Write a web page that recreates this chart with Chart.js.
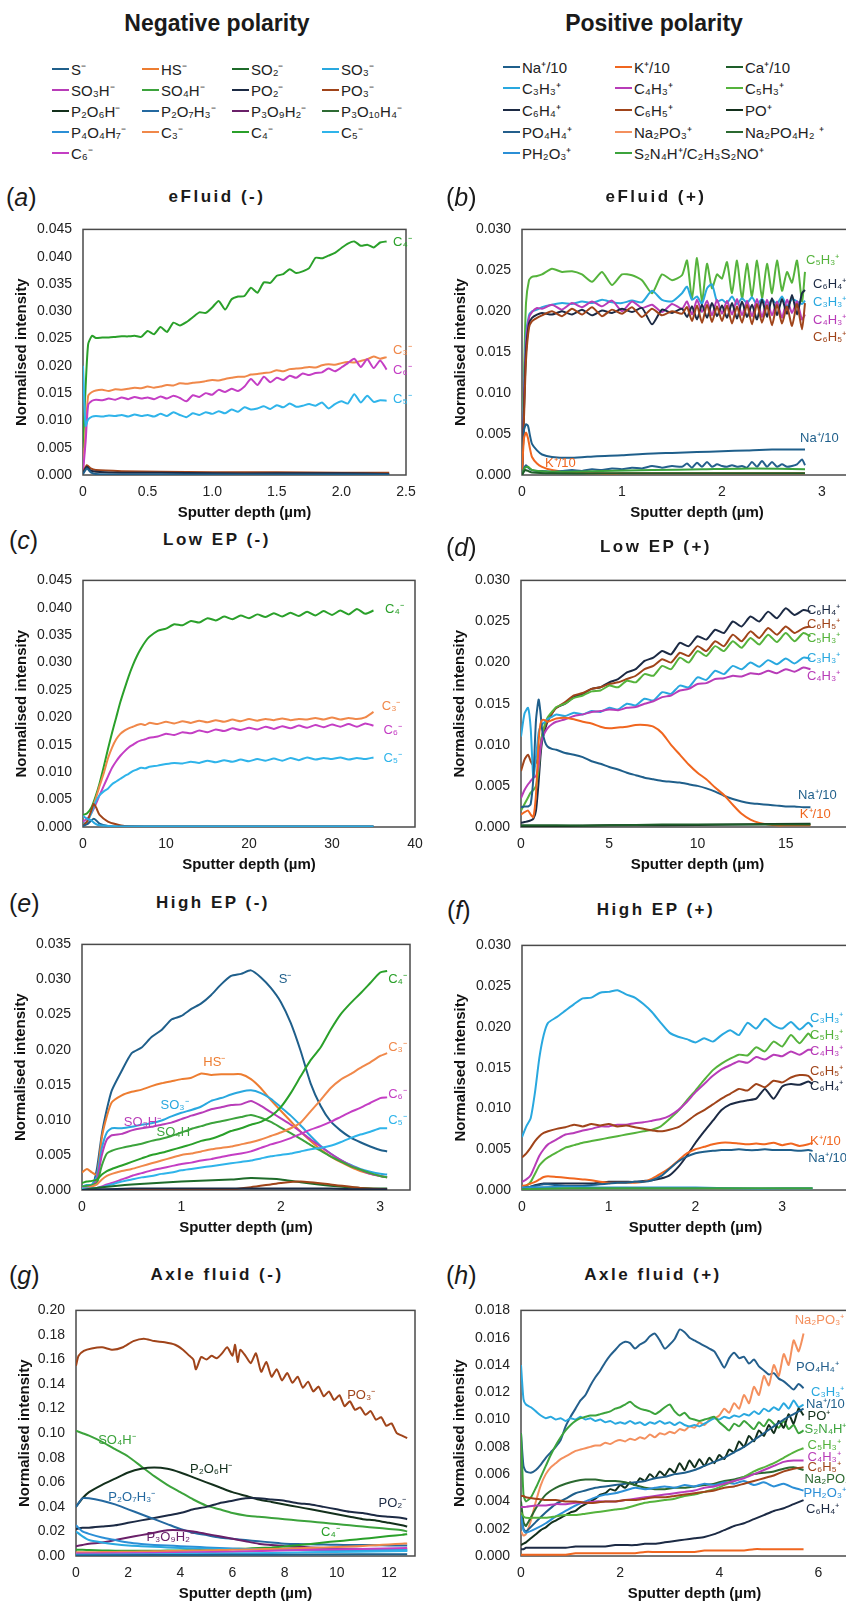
<!DOCTYPE html>
<html>
<head>
<meta charset="utf-8">
<script src="https://cdn.jsdelivr.net/npm/chart.js@4.4.0/dist/chart.umd.min.js"></script>
<style>
html, body { margin: 0; padding: 0; background: #fff; }
body { width: 846px; height: 1602px; overflow: hidden; position: relative; font-family: "Liberation Sans", Arial, sans-serif; color: #1a1a1a; }
.abs { position: absolute; white-space: nowrap; }
.main { font-weight: bold; font-size: 23px; transform: translate(-50%, -50%); }
.ptitle { font-weight: bold; font-size: 17px; letter-spacing: 2.5px; transform: translate(-50%, -50%); }
.tag { font-size: 25px; transform: translateY(-50%); }
.leg { font-size: 15px; transform: translateY(-50%); display: flex; align-items: center; color: #222; }
.sw { display: inline-block; width: 17px; height: 2.5px; margin-right: 2px; }
canvas { position: absolute; }
</style>
</head>
<body>
<script>
const FONT = '"Liberation Sans", Arial, sans-serif';

// legend entries
const negNames = ['S⁻', 'HS⁻', 'SO₂⁻', 'SO₃⁻', 'SO₃H⁻', 'SO₄H⁻', 'PO₂⁻', 'PO₃⁻', 'P₂O₆H⁻', 'P₂O₇H₃⁻', 'P₃O₉H₂⁻', 'P₃O₁₀H₄⁻', 'P₄O₄H₇⁻', 'C₃⁻', 'C₄⁻', 'C₅⁻', 'C₆⁻'];
const negColors = ['#1f5f8b', '#ed7d31', '#1e6b2a', '#29a8df', '#b83cb8', '#3ca33c', '#1c2a44', '#a0441a', '#13301c', '#2469a0', '#6a2069', '#2e6b33', '#2b8fd6', '#f0884a', '#2aa02a', '#2fb4ea', '#c43ec4'];
const posNames = ['Na⁺/10', 'K⁺/10', 'Ca⁺/10', 'C₃H₃⁺', 'C₄H₃⁺', 'C₅H₃⁺', 'C₆H₄⁺', 'C₆H₅⁺', 'PO⁺', 'PO₄H₄⁺', 'Na₂PO₃⁺', 'Na₂PO₄H₂ ⁺', 'PH₂O₃⁺', 'S₂N₄H⁺/C₂H₃S₂NO⁺'];
const posColors = ['#1f5f8b', '#f0661f', '#1e5e2a', '#29a8df', '#b83cb8', '#55b33c', '#1c2a44', '#a0441a', '#13301c', '#245f8c', '#f4905e', '#2b6930', '#2b8fd6', '#3ca33c'];
const N = { S: 0, HS: 1, SO2: 2, SO3: 3, SO3H: 4, SO4H: 5, PO2: 6, PO3: 7, P2O6H: 8, P2O7H3: 9, P3O9H2: 10, P3O10H4: 11, P4O4H7: 12, C3: 13, C4: 14, C5: 15, C6: 16 };
const P = { Na: 0, K: 1, Ca: 2, C3H3: 3, C4H3: 4, C5H3: 5, C6H4: 6, C6H5: 7, PO: 8, PO4H4: 9, Na2PO3: 10, Na2PO4H2: 11, PH2O3: 12, S2N4H: 13 };

// (a) eFluid (-)
const aDepth = [0, 0.02, 0.04, 0.07, 0.1, 0.15, 0.2, 0.25, 0.3, 0.35, 0.4, 0.45, 0.5, 0.55, 0.6, 0.65, 0.7, 0.75, 0.8, 0.85, 0.9, 0.95, 1.0, 1.05, 1.1, 1.15, 1.2, 1.25, 1.3, 1.35, 1.4, 1.45, 1.5, 1.55, 1.6, 1.65, 1.7, 1.75, 1.8, 1.85, 1.9, 1.95, 2.0, 2.05, 2.1, 2.15, 2.2, 2.25, 2.3, 2.35];
const aC4 = [0.005, 0.016, 0.024, 0.0255, 0.0251, 0.0252, 0.0252, 0.0253, 0.0254, 0.0254, 0.0255, 0.0253, 0.0264, 0.0258, 0.0271, 0.0262, 0.0279, 0.0274, 0.0280, 0.0289, 0.0298, 0.0297, 0.0307, 0.0319, 0.0303, 0.0322, 0.0327, 0.0328, 0.0343, 0.0334, 0.0353, 0.0352, 0.0365, 0.0368, 0.0377, 0.0370, 0.0373, 0.0379, 0.0398, 0.0397, 0.0402, 0.0407, 0.0416, 0.0424, 0.0428, 0.0420, 0.0422, 0.0417, 0.0426, 0.0428];
const aC3 = [0.001, 0.008, 0.0145, 0.0152, 0.0155, 0.0156, 0.0154, 0.0157, 0.0156, 0.0158, 0.0160, 0.0159, 0.0162, 0.0160, 0.0162, 0.0165, 0.0164, 0.0168, 0.0167, 0.0169, 0.0170, 0.0172, 0.0174, 0.0173, 0.0176, 0.0178, 0.0180, 0.0180, 0.0184, 0.0185, 0.0187, 0.0188, 0.0192, 0.0190, 0.0194, 0.0195, 0.0196, 0.0198, 0.0197, 0.0201, 0.0203, 0.0202, 0.0205, 0.0207, 0.0206, 0.0209, 0.0212, 0.0217, 0.0213, 0.0216];
const aC6 = [0.0005, 0.006, 0.0128, 0.0136, 0.0138, 0.0137, 0.0140, 0.0138, 0.0142, 0.0139, 0.0143, 0.0140, 0.0142, 0.0139, 0.0144, 0.0140, 0.0145, 0.0141, 0.0135, 0.0146, 0.0143, 0.0150, 0.0147, 0.0156, 0.0152, 0.0158, 0.0154, 0.0162, 0.0176, 0.0165, 0.0180, 0.0170, 0.0178, 0.0174, 0.0182, 0.0178, 0.0186, 0.0183, 0.0187, 0.0188, 0.0195, 0.0190, 0.0197, 0.0205, 0.0213, 0.0198, 0.0212, 0.0196, 0.0210, 0.0193];
const aC5 = [0.020, 0.009, 0.0102, 0.0107, 0.0108, 0.0107, 0.0109, 0.0108, 0.0110, 0.0107, 0.0111, 0.0108, 0.0110, 0.0107, 0.0112, 0.0108, 0.0115, 0.0110, 0.0106, 0.0113, 0.0110, 0.0115, 0.0112, 0.0117, 0.0113, 0.0120, 0.0116, 0.0124, 0.0120, 0.0122, 0.0126, 0.0121, 0.0128, 0.0124, 0.0131, 0.0125, 0.0127, 0.0130, 0.0127, 0.0133, 0.0122, 0.0130, 0.0135, 0.0131, 0.0148, 0.0133, 0.0145, 0.0134, 0.0137, 0.0136];
const aMinorDepth = [0, 0.03, 0.06, 0.1, 0.3, 0.6, 1.0, 1.5, 2.0, 2.37];
const aPO3 = [0.0005, 0.0018, 0.0012, 0.0009, 0.0007, 0.0006, 0.0005, 0.0005, 0.0004, 0.0004];
const aPO2 = [0.0003, 0.0015, 0.0008, 0.0006, 0.0004, 0.0004, 0.0003, 0.0003, 0.0003, 0.0002];
const aS = [0.0002, 0.0012, 0.0005, 0.0002, 0.0001, 0.0001, 0.0001, 0.0001, 0.0001, 0.0001];

// (b) eFluid (+)
const bDepth = [0, 0.02, 0.04, 0.07, 0.1, 0.15, 0.2, 0.3, 0.4, 0.5, 0.6, 0.7, 0.8, 0.9, 1.0, 1.1, 1.2, 1.3, 1.4, 1.5, 1.6, 1.65, 1.7, 1.75, 1.8, 1.85, 1.9, 1.95, 2.0, 2.05, 2.1, 2.15, 2.2, 2.25, 2.3, 2.35, 2.4, 2.45, 2.5, 2.55, 2.6, 2.65, 2.7, 2.75, 2.8, 2.83];
const bC5H3 = [0.0, 0.012, 0.021, 0.0238, 0.0242, 0.0243, 0.0245, 0.0252, 0.0248, 0.0249, 0.0245, 0.0236, 0.0248, 0.0232, 0.0245, 0.0244, 0.0238, 0.0222, 0.0245, 0.0238, 0.0244, 0.0262, 0.0215, 0.0265, 0.0212, 0.0258, 0.0228, 0.0245, 0.0240, 0.0260, 0.0222, 0.0262, 0.0215, 0.0258, 0.0218, 0.0262, 0.0216, 0.0258, 0.0222, 0.0262, 0.0225, 0.0248, 0.0235, 0.0262, 0.0212, 0.0248];
const bC3H3 = [0.0, 0.010, 0.017, 0.0195, 0.0200, 0.0202, 0.0205, 0.0208, 0.0210, 0.0209, 0.0212, 0.0210, 0.0214, 0.0211, 0.0210, 0.0213, 0.0211, 0.0225, 0.0214, 0.0212, 0.0222, 0.0230, 0.0214, 0.0218, 0.0209, 0.0228, 0.0233, 0.0212, 0.0214, 0.0210, 0.0218, 0.0209, 0.0216, 0.0210, 0.0217, 0.0208, 0.0215, 0.0207, 0.0214, 0.0209, 0.0218, 0.0206, 0.0215, 0.0212, 0.0209, 0.0213];
const bC4H3 = [0.0, 0.009, 0.016, 0.0192, 0.0199, 0.0204, 0.0203, 0.0208, 0.0202, 0.0210, 0.0205, 0.0212, 0.0206, 0.0213, 0.0200, 0.0212, 0.0204, 0.0208, 0.0199, 0.0209, 0.0203, 0.0212, 0.0196, 0.0214, 0.0199, 0.0213, 0.0195, 0.0214, 0.0197, 0.0213, 0.0196, 0.0215, 0.0195, 0.0213, 0.0194, 0.0215, 0.0193, 0.0214, 0.0195, 0.0212, 0.0192, 0.0214, 0.0198, 0.0212, 0.0190, 0.0196];
const bC6H4 = [0.0, 0.008, 0.015, 0.0185, 0.0192, 0.0196, 0.0198, 0.0196, 0.0200, 0.0196, 0.0202, 0.0195, 0.0201, 0.0198, 0.0203, 0.0199, 0.0204, 0.0184, 0.0202, 0.0198, 0.0203, 0.0193, 0.0206, 0.0190, 0.0208, 0.0192, 0.0210, 0.0194, 0.0207, 0.0192, 0.0210, 0.0191, 0.0212, 0.0193, 0.0208, 0.0190, 0.0214, 0.0193, 0.0216, 0.0195, 0.0215, 0.0197, 0.0220, 0.0196, 0.0222, 0.0226];
const bC6H5 = [0.0, 0.007, 0.014, 0.0180, 0.0188, 0.0192, 0.0195, 0.0200, 0.0194, 0.0203, 0.0196, 0.0205, 0.0194, 0.0202, 0.0197, 0.0205, 0.0193, 0.0203, 0.0195, 0.0200, 0.0197, 0.0205, 0.0188, 0.0207, 0.0186, 0.0208, 0.0187, 0.0206, 0.0188, 0.0207, 0.0185, 0.0206, 0.0186, 0.0208, 0.0184, 0.0209, 0.0186, 0.0207, 0.0183, 0.0208, 0.0185, 0.0206, 0.0182, 0.0209, 0.0178, 0.0210];
const bPO4H4 = [0.0, 0.0008, 0.0012, 0.0008, 0.0006, 0.0005, 0.0005, 0.0004, 0.0005, 0.0006, 0.0005, 0.0007, 0.0006, 0.0008, 0.0007, 0.0009, 0.0008, 0.0011, 0.0009, 0.0011, 0.0010, 0.0014, 0.0009, 0.0015, 0.0010, 0.0016, 0.0010, 0.0013, 0.0011, 0.0010, 0.0012, 0.0010, 0.0011, 0.0009, 0.0016, 0.0010, 0.0017, 0.0010, 0.0016, 0.0010, 0.0013, 0.0010, 0.0011, 0.0013, 0.0019, 0.0012];
const bSparseDepth = [0, 0.03, 0.06, 0.1, 0.3, 0.8, 1.3, 1.8, 2.3, 2.83];
const bS2N4H = [0.0, 0.0009, 0.0010, 0.0006, 0.0004, 0.0005, 0.0006, 0.0007, 0.0008, 0.0007];
const bCa = [0.0, 0.0006, 0.0005, 0.0003, 0.0002, 0.0002, 0.0002, 0.0002, 0.0002, 0.0002];
const bNaDepth = [0, 0.02, 0.04, 0.06, 0.08, 0.1, 0.15, 0.2, 0.3, 0.5, 0.75, 1.0, 1.25, 1.5, 1.75, 2.0, 2.25, 2.5, 2.83];
const bNa = [0.001, 0.0055, 0.0062, 0.0060, 0.0048, 0.0038, 0.0030, 0.0025, 0.0022, 0.0021, 0.0023, 0.0024, 0.0026, 0.0027, 0.0028, 0.0029, 0.0030, 0.0031, 0.0031];
const bK = [0.0005, 0.0045, 0.0052, 0.0045, 0.0032, 0.0022, 0.0014, 0.0010, 0.0006, 0.0003, 0.0002, 0.0002, 0.0002, 0.0002, 0.0002, 0.0002, 0.0002, 0.0002, 0.0002];

// (c) Low EP (-)
const cDepth = [0, 0.5, 1, 1.5, 2, 2.5, 3, 3.5, 4, 4.5, 5, 5.5, 6, 6.5, 7, 7.5, 8, 9, 10, 11, 12, 13, 14, 15, 16, 17, 18, 19, 20, 21, 22, 23, 24, 25, 26, 27, 28, 29, 30, 31, 32, 33, 34, 35];
const cC4 = [0.0022, 0.0025, 0.0035, 0.0055, 0.0080, 0.0110, 0.0142, 0.0172, 0.0200, 0.0228, 0.0252, 0.0275, 0.0295, 0.0312, 0.0326, 0.0338, 0.0347, 0.0358, 0.0362, 0.0370, 0.0368, 0.0376, 0.0373, 0.0381, 0.0377, 0.0384, 0.0379, 0.0386, 0.0381, 0.0388, 0.0383, 0.0390, 0.0384, 0.0391, 0.0385, 0.0393, 0.0386, 0.0394, 0.0387, 0.0395, 0.0388, 0.0398, 0.0389, 0.0395];
const cC3 = [0.0003, 0.0008, 0.0028, 0.0050, 0.0075, 0.0098, 0.0125, 0.0145, 0.0160, 0.0170, 0.0176, 0.0180, 0.0183, 0.0186, 0.0188, 0.0186, 0.0190, 0.0188, 0.0192, 0.0189, 0.0193, 0.0190, 0.0194, 0.0191, 0.0195, 0.0192, 0.0196, 0.0193, 0.0197, 0.0194, 0.0197, 0.0195, 0.0198, 0.0195, 0.0197, 0.0196, 0.0199, 0.0196, 0.0200, 0.0196, 0.0199, 0.0197, 0.0200, 0.0210];
const cC6 = [0.0010, 0.0015, 0.0025, 0.0040, 0.0058, 0.0075, 0.0092, 0.0108, 0.0120, 0.0130, 0.0138, 0.0145, 0.0150, 0.0155, 0.0158, 0.0160, 0.0163, 0.0165, 0.0170, 0.0168, 0.0173, 0.0171, 0.0176, 0.0173, 0.0178, 0.0175, 0.0180, 0.0177, 0.0181, 0.0178, 0.0183, 0.0179, 0.0184, 0.0180, 0.0185, 0.0181, 0.0186, 0.0182, 0.0187, 0.0183, 0.0188, 0.0183, 0.0189, 0.0185];
const cC5 = [0.0005, 0.0010, 0.0025, 0.0045, 0.0058, 0.0065, 0.0070, 0.0078, 0.0083, 0.0088, 0.0093, 0.0097, 0.0102, 0.0105, 0.0108, 0.0107, 0.0110, 0.0112, 0.0115, 0.0117, 0.0116, 0.0119, 0.0117, 0.0121, 0.0118, 0.0122, 0.0119, 0.0123, 0.0120, 0.0124, 0.0121, 0.0125, 0.0121, 0.0126, 0.0122, 0.0127, 0.0123, 0.0126, 0.0124, 0.0127, 0.0123, 0.0126, 0.0124, 0.0127];
const cMinorDepth = [0, 0.5, 1, 1.3, 1.6, 2, 3, 4, 5, 10, 20, 35];
const cPO3 = [0.0003, 0.0010, 0.0030, 0.0042, 0.0035, 0.0022, 0.0010, 0.0005, 0.0002, 0.0001, 0.0001, 0.0001];
const cS = [0.0002, 0.0005, 0.0012, 0.0015, 0.0012, 0.0006, 0.0002, 0.0001, 0.0001, 0.0001, 0.0001, 0.0001];
const cSO3 = [0.0020, 0.0015, 0.0012, 0.0008, 0.0005, 0.0003, 0.0002, 0.0001, 0.0001, 0.0001, 0.0001, 0.0001];

// (d) Low EP (+)
const dDepth = [0, 0.2, 0.4, 0.55, 0.7, 0.85, 1.0, 1.1, 1.2, 1.35, 1.5, 1.75, 2, 2.5, 3, 3.5, 4, 4.5, 5, 5.5, 6, 6.5, 7, 7.5, 8, 8.5, 9, 9.5, 10, 10.5, 11, 11.5, 12, 12.5, 13, 13.5, 14, 14.5, 15, 15.5, 16, 16.4];
const dC6H4 = [0.0005, 0.0006, 0.0007, 0.0008, 0.0010, 0.0020, 0.0055, 0.0085, 0.0105, 0.0118, 0.0128, 0.0138, 0.0145, 0.0150, 0.0158, 0.0162, 0.0168, 0.0170, 0.0176, 0.0180, 0.0188, 0.0192, 0.0202, 0.0206, 0.0214, 0.0210, 0.0224, 0.0220, 0.0232, 0.0228, 0.0240, 0.0236, 0.0250, 0.0244, 0.0256, 0.0250, 0.0262, 0.0254, 0.0266, 0.0258, 0.0264, 0.0262];
const dC6H5 = [0.0068, 0.0082, 0.0088, 0.0080, 0.0075, 0.0078, 0.0088, 0.0100, 0.0112, 0.0122, 0.0130, 0.0138, 0.0145, 0.0152, 0.0160, 0.0163, 0.0168, 0.0170, 0.0174, 0.0176, 0.0180, 0.0184, 0.0192, 0.0196, 0.0204, 0.0200, 0.0212, 0.0208, 0.0220, 0.0214, 0.0226, 0.0220, 0.0234, 0.0226, 0.0238, 0.0230, 0.0242, 0.0234, 0.0244, 0.0236, 0.0242, 0.0244];
const dC5H3 = [0.0020, 0.0028, 0.0036, 0.0042, 0.0045, 0.0050, 0.0070, 0.0095, 0.0112, 0.0125, 0.0133, 0.0140, 0.0146, 0.0150, 0.0157, 0.0160, 0.0165, 0.0166, 0.0172, 0.0170, 0.0178, 0.0176, 0.0186, 0.0184, 0.0196, 0.0192, 0.0206, 0.0200, 0.0214, 0.0208, 0.0220, 0.0214, 0.0226, 0.0218, 0.0230, 0.0222, 0.0234, 0.0225, 0.0236, 0.0226, 0.0236, 0.0232];
const dC3H3 = [0.0110, 0.0138, 0.0145, 0.0120, 0.0060, 0.0085, 0.0115, 0.0122, 0.0125, 0.0128, 0.0131, 0.0134, 0.0137, 0.0135, 0.0139, 0.0137, 0.0141, 0.0140, 0.0145, 0.0143, 0.0150, 0.0148, 0.0156, 0.0154, 0.0164, 0.0162, 0.0172, 0.0170, 0.0182, 0.0179, 0.0190, 0.0186, 0.0196, 0.0192, 0.0200, 0.0195, 0.0203, 0.0198, 0.0205, 0.0199, 0.0206, 0.0205];
const dC4H3 = [0.0035, 0.0045, 0.0052, 0.0056, 0.0060, 0.0062, 0.0075, 0.0095, 0.0108, 0.0115, 0.0120, 0.0125, 0.0128, 0.0131, 0.0135, 0.0137, 0.0140, 0.0141, 0.0143, 0.0142, 0.0145, 0.0146, 0.0150, 0.0153, 0.0158, 0.0160, 0.0166, 0.0168, 0.0174, 0.0175, 0.0180, 0.0181, 0.0184, 0.0183, 0.0187, 0.0186, 0.0190, 0.0187, 0.0192, 0.0189, 0.0194, 0.0192];
const dNa = [0.0024, 0.0025, 0.0025, 0.0028, 0.0060, 0.0130, 0.0155, 0.0140, 0.0118, 0.0104, 0.0098, 0.0095, 0.0094, 0.0090, 0.0088, 0.0085, 0.0080, 0.0077, 0.0073, 0.0070, 0.0066, 0.0063, 0.0060, 0.0058, 0.0056, 0.0055, 0.0054, 0.0052, 0.0050, 0.0047, 0.0043, 0.0038, 0.0034, 0.0031, 0.0029, 0.0028, 0.0027, 0.0026, 0.0025, 0.0025, 0.0024, 0.0024];
const dK = [0.0015, 0.0018, 0.0020, 0.0015, 0.0012, 0.0040, 0.0105, 0.0125, 0.0130, 0.0130, 0.0128, 0.0130, 0.0132, 0.0133, 0.0131, 0.0128, 0.0126, 0.0122, 0.0120, 0.0121, 0.0122, 0.0124, 0.0124, 0.0122, 0.0114, 0.0100, 0.0088, 0.0076, 0.0066, 0.0058, 0.0048, 0.0039, 0.0027, 0.0016, 0.0009, 0.0005, 0.0003, 0.0002, 0.0002, 0.0002, 0.0002, 0.0002];
const dMinorDepth = [0, 2, 5, 8, 12, 16.4];
const dCa = [0.0002, 0.0002, 0.0002, 0.0003, 0.0003, 0.0003];
const dPO = [0.0001, 0.0001, 0.0002, 0.0002, 0.0003, 0.0004];

// (e) High EP (-)
const eDepth = [0, 0.05, 0.1, 0.15, 0.2, 0.25, 0.3, 0.4, 0.5, 0.6, 0.7, 0.8, 0.9, 1.0, 1.1, 1.2, 1.3, 1.4, 1.5, 1.6, 1.7, 1.8, 1.9, 2.0, 2.1, 2.2, 2.3, 2.4, 2.5, 2.6, 2.7, 2.8, 2.9, 3.0, 3.07];
const eS = [0, 0, 0.0003, 0.003, 0.008, 0.0115, 0.0142, 0.017, 0.0195, 0.0203, 0.0218, 0.0228, 0.0243, 0.0248, 0.0258, 0.0266, 0.0278, 0.0293, 0.0305, 0.0308, 0.0313, 0.0303, 0.0288, 0.0268, 0.0238, 0.0198, 0.0152, 0.0120, 0.0098, 0.0085, 0.0075, 0.0068, 0.0062, 0.0057, 0.0055];
const eHS = [0.0025, 0.003, 0.0025, 0.0022, 0.0075, 0.0105, 0.0125, 0.0135, 0.0140, 0.0143, 0.0148, 0.0152, 0.0155, 0.0158, 0.0160, 0.0166, 0.0164, 0.0165, 0.0165, 0.0165, 0.0158, 0.0145, 0.0128, 0.0113, 0.0098, 0.0083, 0.0070, 0.0058, 0.0048, 0.0040, 0.0033, 0.0027, 0.0023, 0.0020, 0.0018];
const eSO3 = [0.0005, 0.0007, 0.0008, 0.002, 0.006, 0.0082, 0.0088, 0.0088, 0.0090, 0.0093, 0.0095, 0.0099, 0.0105, 0.0110, 0.0114, 0.0119, 0.0127, 0.0131, 0.0136, 0.0140, 0.0142, 0.0138, 0.0130, 0.0118, 0.0106, 0.0092, 0.0077, 0.0063, 0.0052, 0.0043, 0.0036, 0.0030, 0.0026, 0.0023, 0.0022];
const eSO3H = [0.0003, 0.0004, 0.0005, 0.0015, 0.005, 0.0072, 0.0078, 0.0080, 0.0085, 0.0088, 0.0090, 0.0093, 0.0096, 0.0101, 0.0106, 0.0110, 0.0115, 0.0118, 0.0121, 0.0122, 0.0127, 0.0120, 0.0111, 0.0102, 0.0093, 0.0083, 0.0072, 0.0062, 0.0052, 0.0043, 0.0035, 0.0029, 0.0023, 0.0020, 0.0018];
const eSO4H = [0.0005, 0.0006, 0.0007, 0.001, 0.0035, 0.0052, 0.0056, 0.0060, 0.0063, 0.0066, 0.0070, 0.0073, 0.0077, 0.0082, 0.0087, 0.0091, 0.0095, 0.0098, 0.0101, 0.0104, 0.0107, 0.0103, 0.0097, 0.0089, 0.0081, 0.0073, 0.0064, 0.0056, 0.0048, 0.0041, 0.0034, 0.0029, 0.0024, 0.0020, 0.0018];
const eC4 = [0.001, 0.0012, 0.0013, 0.0015, 0.0022, 0.0027, 0.003, 0.0035, 0.004, 0.0045, 0.005, 0.0053, 0.0057, 0.0061, 0.0065, 0.007, 0.0073, 0.0078, 0.0084, 0.0088, 0.0093, 0.0097, 0.0105, 0.0118, 0.0138, 0.0162, 0.0185, 0.0203, 0.0228, 0.0250, 0.0266, 0.0280, 0.0295, 0.0310, 0.0312];
const eC3 = [0.0003, 0.0003, 0.0005, 0.0008, 0.0015, 0.002, 0.0023, 0.0027, 0.003, 0.0034, 0.0038, 0.0042, 0.0046, 0.005, 0.0052, 0.0055, 0.0058, 0.006, 0.0062, 0.0065, 0.0068, 0.0072, 0.0077, 0.0082, 0.0088, 0.0096, 0.0112, 0.0128, 0.0145, 0.0157, 0.0165, 0.0174, 0.0182, 0.0191, 0.0195];
const eC6 = [0.0002, 0.0002, 0.0002, 0.0003, 0.0005, 0.0008, 0.001, 0.0015, 0.002, 0.0024, 0.0028, 0.0031, 0.0034, 0.0037, 0.0039, 0.0042, 0.0044, 0.0047, 0.005, 0.0052, 0.0055, 0.006, 0.0065, 0.0069, 0.0074, 0.0080, 0.0086, 0.0091, 0.0097, 0.0104, 0.0111, 0.0117, 0.0124, 0.0131, 0.0132];
const eC5 = [0.0002, 0.0002, 0.0002, 0.0003, 0.0004, 0.0006, 0.0008, 0.0012, 0.0015, 0.0018, 0.002, 0.0023, 0.0025, 0.0028, 0.003, 0.0032, 0.0034, 0.0036, 0.0038, 0.004, 0.0042, 0.0045, 0.0048, 0.005, 0.0052, 0.0055, 0.0058, 0.006, 0.0063, 0.0068, 0.0074, 0.0079, 0.0083, 0.0088, 0.0088];
const eMinorDepth = [0, 0.2, 0.5, 1.0, 1.5, 1.7, 1.9, 2.0, 2.2, 2.5, 2.8, 3.07];
const eSO2 = [0, 0.0004, 0.0008, 0.0012, 0.0015, 0.0017, 0.0016, 0.0015, 0.0011, 0.0006, 0.0003, 0.0002];
const ePO3 = [0, 0, 0, 0, 0.0001, 0.0004, 0.0008, 0.0010, 0.0012, 0.0008, 0.0003, 0.0001];
const ePO2 = [0, 0.0001, 0.0002, 0.0002, 0.0002, 0.0002, 0.0002, 0.0002, 0.0002, 0.0002, 0.0001, 0.0001];

// (f) High EP (+)
const fDepth = [0, 0.05, 0.1, 0.15, 0.2, 0.25, 0.3, 0.4, 0.5, 0.6, 0.7, 0.8, 0.9, 1.0, 1.1, 1.2, 1.3, 1.4, 1.5, 1.6, 1.7, 1.8, 1.9, 2.0, 2.1, 2.2, 2.3, 2.4, 2.5, 2.6, 2.7, 2.8, 2.9, 3.0, 3.1, 3.2, 3.3, 3.35];
const fC3H3 = [0.0065, 0.0078, 0.0088, 0.012, 0.0162, 0.019, 0.0205, 0.0212, 0.0220, 0.0228, 0.0235, 0.0236, 0.0242, 0.0243, 0.0245, 0.0240, 0.0236, 0.0228, 0.0218, 0.0205, 0.0193, 0.0188, 0.0185, 0.0181, 0.0186, 0.0182, 0.0190, 0.0196, 0.0190, 0.0205, 0.0198, 0.0210, 0.0202, 0.0198, 0.0206, 0.0197, 0.0205, 0.0200];
const fC5H3 = [0.0003, 0.0005, 0.001, 0.002, 0.003, 0.0036, 0.004, 0.0046, 0.0052, 0.0055, 0.0058, 0.006, 0.0062, 0.0064, 0.0066, 0.0068, 0.007, 0.0072, 0.0074, 0.0078, 0.0087, 0.0097, 0.011, 0.0122, 0.0135, 0.0147, 0.0155, 0.0161, 0.0166, 0.0165, 0.0175, 0.0170, 0.0182, 0.0176, 0.0190, 0.0180, 0.0192, 0.0186];
const fC4H3 = [0.001, 0.0013, 0.0018, 0.003, 0.0042, 0.005, 0.0056, 0.0062, 0.0068, 0.0070, 0.0073, 0.0075, 0.0078, 0.0078, 0.0080, 0.0080, 0.0082, 0.0083, 0.0085, 0.0087, 0.0091, 0.0098, 0.0108, 0.0120, 0.0130, 0.0140, 0.0148, 0.0153, 0.0158, 0.0156, 0.0163, 0.0160, 0.0166, 0.0164, 0.0170, 0.0166, 0.0172, 0.0172];
const fC6H5 = [0.004, 0.0045, 0.0052, 0.006, 0.0066, 0.007, 0.0072, 0.0075, 0.0077, 0.0080, 0.0078, 0.0081, 0.0079, 0.0081, 0.0078, 0.0079, 0.0077, 0.0075, 0.0073, 0.0072, 0.0074, 0.0077, 0.0084, 0.0092, 0.0098, 0.0105, 0.0112, 0.0118, 0.0124, 0.0122, 0.0130, 0.0126, 0.0134, 0.0132, 0.0138, 0.0141, 0.0140, 0.0134];
const fC6H4 = [0.0002, 0.0003, 0.0004, 0.0006, 0.0007, 0.0008, 0.0008, 0.0008, 0.0008, 0.0008, 0.0008, 0.0008, 0.0009, 0.0010, 0.0010, 0.0010, 0.0010, 0.0011, 0.0012, 0.0014, 0.0018, 0.0028, 0.0042, 0.0058, 0.0072, 0.0085, 0.0098, 0.0105, 0.0108, 0.0110, 0.0112, 0.0124, 0.0112, 0.0127, 0.0130, 0.0129, 0.0133, 0.0130];
const fK = [0.0005, 0.0006, 0.0008, 0.001, 0.0013, 0.0016, 0.0017, 0.0016, 0.0015, 0.0014, 0.0013, 0.0012, 0.0010, 0.0009, 0.0009, 0.0009, 0.0009, 0.0010, 0.0014, 0.0020, 0.0027, 0.0036, 0.0045, 0.0050, 0.0053, 0.0056, 0.0058, 0.0058, 0.0057, 0.0056, 0.0057, 0.0056, 0.0058, 0.0055, 0.0057, 0.0054, 0.0056, 0.0058];
const fNa = [0.0002, 0.0003, 0.0004, 0.0005, 0.0006, 0.0007, 0.0007, 0.0006, 0.0005, 0.0005, 0.0005, 0.0006, 0.0007, 0.0008, 0.0009, 0.0009, 0.0010, 0.0010, 0.0012, 0.0017, 0.0026, 0.0035, 0.0041, 0.0045, 0.0047, 0.0048, 0.0049, 0.0049, 0.0050, 0.0049, 0.0049, 0.0050, 0.0049, 0.0049, 0.0049, 0.0048, 0.0049, 0.0048];
const fMinorDepth = [0, 0.5, 1, 1.5, 2, 2.5, 3, 3.35];
const fPH2O3 = [0.0003, 0.0004, 0.0003, 0.0003, 0.0003, 0.0002, 0.0002, 0.0002];
const fS2N4H = [0.0001, 0.0002, 0.0002, 0.0002, 0.0002, 0.0002, 0.0002, 0.0002];

// (g) Axle fluid (-)
const gPO3Depth = [0, 0.1, 0.3, 0.6, 1, 1.4, 1.8, 2.2, 2.6, 3, 3.4, 3.8, 4.1, 4.3, 4.5, 4.6, 4.8, 5, 5.2, 5.4, 5.6, 5.8, 6, 6.1, 6.2, 6.3, 6.5, 6.7, 6.9, 7.1, 7.3, 7.5, 7.7, 7.9, 8.1, 8.3, 8.5, 8.7, 8.9, 9.1, 9.3, 9.5, 9.7, 9.9, 10.1, 10.3, 10.5, 10.7, 10.9, 11.1, 11.3, 11.5, 11.7, 11.9, 12.1, 12.3, 12.5, 12.7];
const gPO3 = [0.155, 0.163, 0.167, 0.169, 0.170, 0.168, 0.170, 0.175, 0.177, 0.175, 0.174, 0.172, 0.168, 0.164, 0.160, 0.152, 0.162, 0.160, 0.163, 0.161, 0.165, 0.170, 0.163, 0.172, 0.158, 0.168, 0.163, 0.157, 0.165, 0.150, 0.158, 0.146, 0.152, 0.143, 0.149, 0.141, 0.146, 0.137, 0.142, 0.134, 0.138, 0.130, 0.134, 0.127, 0.131, 0.122, 0.126, 0.119, 0.121, 0.115, 0.118, 0.111, 0.113, 0.106, 0.108, 0.100, 0.098, 0.096];
const gDepth = [0, 0.25, 0.5, 1, 1.5, 2, 2.5, 3, 3.5, 4, 4.5, 5, 5.5, 6, 6.5, 7, 7.5, 8, 8.5, 9, 9.5, 10, 10.5, 11, 11.5, 12, 12.5, 12.7];
const gSO4H = [0.102, 0.100, 0.098, 0.093, 0.087, 0.081, 0.073, 0.065, 0.058, 0.052, 0.046, 0.041, 0.038, 0.035, 0.033, 0.032, 0.031, 0.030, 0.029, 0.028, 0.027, 0.026, 0.025, 0.024, 0.023, 0.022, 0.021, 0.020];
const gP2O6H = [0.040, 0.047, 0.052, 0.058, 0.063, 0.068, 0.071, 0.072, 0.071, 0.068, 0.064, 0.060, 0.056, 0.052, 0.049, 0.046, 0.044, 0.042, 0.040, 0.038, 0.036, 0.034, 0.032, 0.030, 0.029, 0.027, 0.025, 0.024];
const gPO2 = [0.022, 0.023, 0.023, 0.024, 0.025, 0.027, 0.029, 0.031, 0.033, 0.035, 0.038, 0.040, 0.043, 0.045, 0.047, 0.047, 0.046, 0.045, 0.043, 0.042, 0.040, 0.038, 0.036, 0.035, 0.033, 0.032, 0.031, 0.030];
const gP2O7H3 = [0.040, 0.047, 0.047, 0.045, 0.042, 0.038, 0.034, 0.030, 0.026, 0.022, 0.019, 0.017, 0.015, 0.014, 0.013, 0.012, 0.011, 0.010, 0.0098, 0.0095, 0.0093, 0.0091, 0.009, 0.009, 0.0088, 0.0086, 0.0085, 0.0085];
const gP3O9H2 = [0.008, 0.009, 0.010, 0.011, 0.013, 0.015, 0.017, 0.019, 0.021, 0.021, 0.020, 0.018, 0.016, 0.014, 0.012, 0.010, 0.009, 0.008, 0.0075, 0.007, 0.0065, 0.006, 0.006, 0.0058, 0.0056, 0.0055, 0.0054, 0.0053];
const gC4 = [0.005, 0.005, 0.0048, 0.0045, 0.0043, 0.0042, 0.0042, 0.0043, 0.0044, 0.0045, 0.0047, 0.005, 0.0053, 0.0057, 0.006, 0.0065, 0.007, 0.0078, 0.0088, 0.0098, 0.011, 0.012, 0.013, 0.014, 0.015, 0.0162, 0.0172, 0.0178];
const gP4O4H7 = [0.025, 0.020, 0.018, 0.015, 0.013, 0.011, 0.0098, 0.009, 0.0085, 0.008, 0.0075, 0.007, 0.0066, 0.0062, 0.0058, 0.0055, 0.0052, 0.005, 0.0048, 0.0046, 0.0045, 0.0044, 0.0043, 0.0042, 0.0041, 0.004, 0.004, 0.004];
const gSO3 = [0.020, 0.016, 0.013, 0.011, 0.0095, 0.0085, 0.008, 0.0075, 0.007, 0.0066, 0.0062, 0.006, 0.0058, 0.0056, 0.0055, 0.0054, 0.0053, 0.0053, 0.0052, 0.0052, 0.0052, 0.0051, 0.0051, 0.005, 0.005, 0.005, 0.005, 0.005];
const gC3 = [0.003, 0.003, 0.003, 0.0032, 0.0033, 0.0035, 0.0036, 0.0038, 0.004, 0.0042, 0.0044, 0.0046, 0.0048, 0.005, 0.0052, 0.0055, 0.0058, 0.006, 0.0063, 0.0066, 0.007, 0.0074, 0.0078, 0.0082, 0.0088, 0.0094, 0.0100, 0.0102];
const gSparseDepth = [0, 3, 6, 9, 12.7];
const gC6 = [0.002, 0.0025, 0.0035, 0.005, 0.0065];
const gC5 = [0.001, 0.0015, 0.002, 0.003, 0.004];
const gS = [0.0005, 0.0008, 0.001, 0.0012, 0.0015];

// (h) Axle fluid (+)
const hDepth = [0, 0.05, 0.1, 0.2, 0.3, 0.4, 0.5, 0.6, 0.7, 0.8, 0.9, 1.0, 1.1, 1.2, 1.3, 1.4, 1.5, 1.6, 1.7, 1.8, 1.9, 2.0, 2.1, 2.2, 2.3, 2.4, 2.5, 2.6, 2.7, 2.8, 2.9, 3.0, 3.1, 3.2, 3.3, 3.4, 3.5, 3.6, 3.7, 3.8, 3.9, 4.0, 4.1, 4.2, 4.3, 4.4, 4.5, 4.6, 4.7, 4.8, 4.9, 5.0, 5.1, 5.2, 5.3, 5.4, 5.5, 5.6, 5.7];
const hPO4H4 = [0.0090, 0.0066, 0.0062, 0.0061, 0.0063, 0.0067, 0.0072, 0.0076, 0.0080, 0.0085, 0.0095, 0.0102, 0.0108, 0.0114, 0.0118, 0.0125, 0.0131, 0.0136, 0.0142, 0.0147, 0.0151, 0.0155, 0.0157, 0.0156, 0.0152, 0.0155, 0.0157, 0.0161, 0.0163, 0.0158, 0.0152, 0.0155, 0.0159, 0.0166, 0.0164, 0.0160, 0.0158, 0.0156, 0.0154, 0.0152, 0.0150, 0.0144, 0.0138, 0.0145, 0.0149, 0.0145, 0.0146, 0.0141, 0.0144, 0.0139, 0.0136, 0.0133, 0.0134, 0.0130, 0.0128, 0.0125, 0.0122, 0.0126, 0.0123];
const hNa2PO3 = [0.0018, 0.0015, 0.0016, 0.0026, 0.0040, 0.0052, 0.0060, 0.0065, 0.0068, 0.0071, 0.0073, 0.0075, 0.0077, 0.0078, 0.0079, 0.0080, 0.0081, 0.0081, 0.0083, 0.0082, 0.0084, 0.0085, 0.0084, 0.0086, 0.0085, 0.0087, 0.0086, 0.0089, 0.0087, 0.0090, 0.0089, 0.0091, 0.0090, 0.0093, 0.0092, 0.0095, 0.0094, 0.0098, 0.0096, 0.0100, 0.0101, 0.0103, 0.0108, 0.0105, 0.0112, 0.0108, 0.0118, 0.0112, 0.0124, 0.0118, 0.0132, 0.0125, 0.0140, 0.0132, 0.0148, 0.0140, 0.0158, 0.0150, 0.0163];
const hC3H3 = [0.0140, 0.0115, 0.0111, 0.0109, 0.0106, 0.0103, 0.0101, 0.0102, 0.0100, 0.0101, 0.0099, 0.0101, 0.0100, 0.0102, 0.0100, 0.0101, 0.0099, 0.0100, 0.0098, 0.0099, 0.0097, 0.0098, 0.0097, 0.0099, 0.0097, 0.0098, 0.0096, 0.0098, 0.0097, 0.0099, 0.0097, 0.0098, 0.0096, 0.0098, 0.0096, 0.0095, 0.0096, 0.0095, 0.0097, 0.0099, 0.0101, 0.0100, 0.0102, 0.0101, 0.0103, 0.0102, 0.0104, 0.0103, 0.0106, 0.0104, 0.0108, 0.0106, 0.0109, 0.0107, 0.0112, 0.0108, 0.0114, 0.0109, 0.0111];
const hS2N4H = [0.0090, 0.0045, 0.0040, 0.0043, 0.0050, 0.0058, 0.0066, 0.0074, 0.0081, 0.0087, 0.0092, 0.0096, 0.0099, 0.0101, 0.0102, 0.0103, 0.0103, 0.0104, 0.0105, 0.0106, 0.0108, 0.0109, 0.0111, 0.0113, 0.0110, 0.0108, 0.0107, 0.0106, 0.0104, 0.0106, 0.0109, 0.0111, 0.0106, 0.0103, 0.0105, 0.0101, 0.0100, 0.0099, 0.0100, 0.0101, 0.0102, 0.0098, 0.0095, 0.0092, 0.0097, 0.0095, 0.0099, 0.0096, 0.0093, 0.0098, 0.0095, 0.0100, 0.0097, 0.0094, 0.0099, 0.0093, 0.0096, 0.0090, 0.0092];
const hPO = [0.0008, 0.0009, 0.0010, 0.0013, 0.0016, 0.0019, 0.0021, 0.0024, 0.0026, 0.0028, 0.0030, 0.0032, 0.0033, 0.0036, 0.0038, 0.0040, 0.0042, 0.0045, 0.0046, 0.0049, 0.0048, 0.0052, 0.0050, 0.0054, 0.0052, 0.0057, 0.0055, 0.0060, 0.0057, 0.0062, 0.0059, 0.0064, 0.0061, 0.0068, 0.0063, 0.0070, 0.0065, 0.0071, 0.0066, 0.0072, 0.0068, 0.0074, 0.0071, 0.0078, 0.0076, 0.0084, 0.0080, 0.0088, 0.0084, 0.0092, 0.0088, 0.0096, 0.0090, 0.0099, 0.0094, 0.0104, 0.0097, 0.0108, 0.0103];
const hDepthC = [0, 0.05, 0.1, 0.3, 0.5, 0.7, 0.9, 1.1, 1.3, 1.5, 1.7, 1.9, 2.1, 2.3, 2.5, 2.7, 2.9, 3.1, 3.3, 3.5, 3.7, 3.9, 4.1, 4.3, 4.5, 4.7, 4.9, 5.1, 5.3, 5.5, 5.7];
const hNa = [0.0035, 0.0020, 0.0018, 0.0025, 0.0032, 0.0038, 0.0042, 0.0046, 0.0048, 0.0050, 0.0051, 0.0052, 0.0053, 0.0054, 0.0055, 0.0057, 0.0058, 0.0060, 0.0061, 0.0063, 0.0066, 0.0069, 0.0072, 0.0076, 0.0080, 0.0085, 0.0090, 0.0095, 0.0100, 0.0104, 0.0108];
const hNa2PO4H2 = [0.0040, 0.0025, 0.0022, 0.0035, 0.0045, 0.0050, 0.0053, 0.0055, 0.0056, 0.0056, 0.0055, 0.0055, 0.0054, 0.0052, 0.0050, 0.0049, 0.0049, 0.0050, 0.0050, 0.0051, 0.0052, 0.0053, 0.0055, 0.0056, 0.0058, 0.0060, 0.0061, 0.0062, 0.0064, 0.0065, 0.0063];
const hPH2O3 = [0.0030, 0.0019, 0.0017, 0.0020, 0.0024, 0.0029, 0.0033, 0.0037, 0.0040, 0.0043, 0.0045, 0.0046, 0.0048, 0.0050, 0.0049, 0.0050, 0.0051, 0.0050, 0.0052, 0.0051, 0.0053, 0.0052, 0.0054, 0.0053, 0.0055, 0.0052, 0.0054, 0.0051, 0.0053, 0.0050, 0.0048];
const hC5H3 = [0.0032, 0.0029, 0.0028, 0.0028, 0.0028, 0.0029, 0.0030, 0.0030, 0.0031, 0.0032, 0.0033, 0.0034, 0.0035, 0.0037, 0.0039, 0.0040, 0.0041, 0.0042, 0.0044, 0.0045, 0.0047, 0.0049, 0.0052, 0.0055, 0.0058, 0.0062, 0.0065, 0.0068, 0.0072, 0.0076, 0.0079];
const hC4H3 = [0.0036, 0.0036, 0.0036, 0.0037, 0.0037, 0.0038, 0.0038, 0.0039, 0.0039, 0.0040, 0.0040, 0.0040, 0.0041, 0.0042, 0.0043, 0.0044, 0.0045, 0.0046, 0.0047, 0.0048, 0.0050, 0.0051, 0.0053, 0.0055, 0.0057, 0.0060, 0.0063, 0.0066, 0.0069, 0.0070, 0.0070];
const hC6H5 = [0.0044, 0.0044, 0.0043, 0.0042, 0.0041, 0.0041, 0.0040, 0.0040, 0.0039, 0.0039, 0.0040, 0.0040, 0.0041, 0.0041, 0.0042, 0.0043, 0.0043, 0.0044, 0.0045, 0.0046, 0.0047, 0.0048, 0.0050, 0.0051, 0.0053, 0.0055, 0.0057, 0.0059, 0.0062, 0.0064, 0.0065];
const hC6H4 = [0.0005, 0.0005, 0.0006, 0.0006, 0.0006, 0.0006, 0.0006, 0.0007, 0.0007, 0.0007, 0.0007, 0.0008, 0.0008, 0.0008, 0.0009, 0.0009, 0.0010, 0.0011, 0.0012, 0.0013, 0.0014, 0.0016, 0.0019, 0.0022, 0.0024, 0.0027, 0.0030, 0.0033, 0.0035, 0.0038, 0.0041];
const hK = [0.0001, 0.0001, 0.0001, 0.0001, 0.0001, 0.0001, 0.0001, 0.0002, 0.0002, 0.0002, 0.0002, 0.0002, 0.0002, 0.0002, 0.0003, 0.0003, 0.0003, 0.0003, 0.0003, 0.0003, 0.0004, 0.0004, 0.0004, 0.0004, 0.0004, 0.0005, 0.0005, 0.0005, 0.0005, 0.0005, 0.0005];

function xy(xs, ys) {
  const out = [];
  for (let i = 0; i < Math.min(xs.length, ys.length); i++) out.push({ x: xs[i], y: ys[i] });
  return out;
}

const panels = [
  { tag: 'a', title: 'eFluid (-)', tagAt: [6, 197], titleAt: [217, 197], pos: false,
    plot: [83, 222, 406, 475], xMax: 2.5, xStep: 0.5, yMax: 0.045, yStep: 0.005, yDec: 3, yTitlePad: 10,
    series: [[N.S, aMinorDepth, aS], [N.PO2, aMinorDepth, aPO2], [N.PO3, aMinorDepth, aPO3], [N.C5, aDepth, aC5], [N.C6, aDepth, aC6], [N.C3, aDepth, aC3], [N.C4, aDepth, aC4]],
    labels: [[N.C4, 2.40, 0.0427], [N.C3, 2.40, 0.0229], [N.C6, 2.40, 0.0192], [N.C5, 2.40, 0.0139]] },
  { tag: 'b', title: 'eFluid (+)', tagAt: [446, 197], titleAt: [656, 197], pos: true,
    plot: [522, 222, 872, 475], xMax: 3.5, xStep: 1, yMax: 0.030, yStep: 0.005, yDec: 3, yTitlePad: 10,
    series: [[P.Ca, bSparseDepth, bCa], [P.S2N4H, bSparseDepth, bS2N4H], [P.PO4H4, bDepth, bPO4H4], [P.K, bNaDepth, bK], [P.Na, bNaDepth, bNa],
      [P.C6H5, bDepth, bC6H5], [P.C6H4, bDepth, bC6H4], [P.C4H3, bDepth, bC4H3], [P.C3H3, bDepth, bC3H3], [P.C5H3, bDepth, bC5H3]],
    labels: [[P.C5H3, 2.84, 0.0262], [P.C6H4, 2.91, 0.0233], [P.C3H3, 2.91, 0.0211], [P.C4H3, 2.91, 0.0189], [P.C6H5, 2.91, 0.0168], [P.Na, 2.78, 0.0045], [P.K, 0.23, 0.0014]] },
  { tag: 'c', title: 'Low EP (-)', tagAt: [9, 540], titleAt: [217, 540], pos: false,
    plot: [83, 573, 415, 827], xMax: 40, xStep: 10, yMax: 0.045, yStep: 0.005, yDec: 3, yTitlePad: 10,
    series: [[N.SO3, cMinorDepth, cSO3], [N.S, cMinorDepth, cS], [N.PO3, cMinorDepth, cPO3], [N.C5, cDepth, cC5], [N.C6, cDepth, cC6], [N.C3, cDepth, cC3], [N.C4, cDepth, cC4]],
    labels: [[N.C4, 36.4, 0.0397], [N.C3, 36.0, 0.0220], [N.C6, 36.2, 0.0177], [N.C5, 36.2, 0.0126]] },
  { tag: 'd', title: 'Low EP (+)', tagAt: [446, 547], titleAt: [656, 547], pos: true,
    plot: [521, 573, 874, 827], xMax: 20, xStep: 5, yMax: 0.030, yStep: 0.005, yDec: 3, yTitlePad: 10,
    series: [[P.Ca, dMinorDepth, dCa], [P.PO, dMinorDepth, dPO], [P.K, dDepth, dK], [P.Na, dDepth, dNa], [P.C4H3, dDepth, dC4H3], [P.C3H3, dDepth, dC3H3],
      [P.C5H3, dDepth, dC5H3], [P.C6H5, dDepth, dC6H5], [P.C6H4, dDepth, dC6H4]],
    labels: [[P.C6H4, 16.2, 0.0264], [P.C6H5, 16.2, 0.0246], [P.C5H3, 16.2, 0.0229], [P.C3H3, 16.2, 0.0205], [P.C4H3, 16.2, 0.0183], [P.Na, 15.7, 0.0039], [P.K, 15.8, 0.0015]] },
  { tag: 'e', title: 'High EP (-)', tagAt: [9, 903], titleAt: [213, 903], pos: false,
    plot: [82, 937, 410, 1190], xMax: 3.3, xStep: 1, yMax: 0.035, yStep: 0.005, yDec: 3, yTitlePad: 10,
    series: [[N.PO2, eMinorDepth, ePO2], [N.PO3, eMinorDepth, ePO3], [N.SO2, eMinorDepth, eSO2], [N.C5, eDepth, eC5], [N.C6, eDepth, eC6], [N.C3, eDepth, eC3],
      [N.C4, eDepth, eC4], [N.SO4H, eDepth, eSO4H], [N.SO3H, eDepth, eSO3H], [N.SO3, eDepth, eSO3], [N.HS, eDepth, eHS], [N.S, eDepth, eS]],
    labels: [[N.S, 1.98, 0.0300], [N.C4, 3.08, 0.0300], [N.HS, 1.22, 0.0182], [N.C3, 3.08, 0.0203], [N.SO3, 0.79, 0.0121], [N.C6, 3.08, 0.0136],
      [N.SO3H, 0.42, 0.0097], [N.C5, 3.08, 0.0099], [N.SO4H, 0.75, 0.0082]] },
  { tag: 'f', title: 'High EP (+)', tagAt: [447, 910], titleAt: [656, 910], pos: true,
    plot: [522, 938, 869, 1190], xMax: 4, xStep: 1, yMax: 0.030, yStep: 0.005, yDec: 3, yTitlePad: 10,
    series: [[P.S2N4H, fMinorDepth, fS2N4H], [P.PH2O3, fMinorDepth, fPH2O3], [P.Na, fDepth, fNa], [P.K, fDepth, fK], [P.C6H4, fDepth, fC6H4],
      [P.C6H5, fDepth, fC6H5], [P.C4H3, fDepth, fC4H3], [P.C5H3, fDepth, fC5H3], [P.C3H3, fDepth, fC3H3]],
    labels: [[P.C3H3, 3.32, 0.0211], [P.C5H3, 3.32, 0.0190], [P.C4H3, 3.32, 0.0170], [P.C6H5, 3.32, 0.0145], [P.C6H4, 3.32, 0.0127], [P.K, 3.32, 0.0060], [P.Na, 3.30, 0.0039]] },
  { tag: 'g', title: 'Axle fluid (-)', tagAt: [9, 1275], titleAt: [217, 1275], pos: false,
    plot: [76, 1303, 415, 1556], xMax: 13, xStep: 2, yMax: 0.20, yStep: 0.02, yDec: 2, yTitlePad: 20,
    series: [[N.S, gSparseDepth, gS], [N.C5, gSparseDepth, gC5], [N.C6, gSparseDepth, gC6], [N.C3, gDepth, gC3], [N.SO3, gDepth, gSO3], [N.P4O4H7, gDepth, gP4O4H7],
      [N.C4, gDepth, gC4], [N.P3O9H2, gDepth, gP3O9H2], [N.P2O7H3, gDepth, gP2O7H3], [N.PO2, gDepth, gPO2], [N.P2O6H, gDepth, gP2O6H], [N.SO4H, gDepth, gSO4H], [N.PO3, gPO3Depth, gPO3]],
    labels: [[N.PO3, 10.4, 0.131], [N.SO4H, 0.85, 0.094], [N.P2O6H, 4.37, 0.0705], [N.P2O7H3, 1.24, 0.048], [N.PO2, 11.6, 0.0428], [N.C4, 9.4, 0.019], [N.P3O9H2, 2.7, 0.015]] },
  { tag: 'h', title: 'Axle fluid (+)', tagAt: [446, 1275], titleAt: [653, 1275], pos: true,
    plot: [521, 1303, 868, 1556], xMax: 7, xStep: 2, yMax: 0.018, yStep: 0.002, yDec: 3, yTitlePad: 10,
    series: [[P.K, hDepthC, hK], [P.C6H4, hDepthC, hC6H4], [P.C6H5, hDepthC, hC6H5], [P.C4H3, hDepthC, hC4H3], [P.C5H3, hDepthC, hC5H3], [P.PH2O3, hDepthC, hPH2O3],
      [P.Na2PO4H2, hDepthC, hNa2PO4H2], [P.Na, hDepthC, hNa], [P.PO, hDepth, hPO], [P.S2N4H, hDepth, hS2N4H], [P.C3H3, hDepth, hC3H3], [P.Na2PO3, hDepth, hNa2PO3], [P.PO4H4, hDepth, hPO4H4]],
    labels: [[P.Na2PO3, 5.52, 0.0173], [P.PO4H4, 5.55, 0.0138], [P.C3H3, 5.85, 0.0120], [P.Na, 5.75, 0.0111], [P.PO, 5.78, 0.0102], [P.S2N4H, 5.72, 0.0093],
      [P.C5H3, 5.78, 0.0081], [P.C4H3, 5.78, 0.0072], [P.C6H5, 5.78, 0.0065], [P.Na2PO4H2, 5.72, 0.0056], [P.PH2O3, 5.70, 0.0046], [P.C6H4, 5.75, 0.0034]] }
];

function addDiv(cls, html, x, y) {
  const d = document.createElement('div');
  d.className = 'abs ' + cls;
  d.innerHTML = html;
  d.style.left = x + 'px';
  d.style.top = y + 'px';
  document.body.appendChild(d);
}

// headings and legends
addDiv('main', 'Negative polarity', 217, 23);
addDiv('main', 'Positive polarity', 654, 23);
const negCols = [52, 142, 232, 322], negRows = [69, 90, 111, 132, 153];
negNames.forEach((n, i) => addDiv('leg', '<span class="sw" style="background:' + negColors[i] + '"></span>' + n, negCols[i % 4], negRows[Math.floor(i / 4)]));
const posCols = [503, 615, 726], posRows = [67, 88, 110, 132, 153];
posNames.forEach((n, i) => addDiv('leg', '<span class="sw" style="background:' + posColors[i] + '"></span>' + n, posCols[i % 3], posRows[Math.floor(i / 3)]));

const framePlugin = {
  id: 'frame',
  beforeDatasetsDraw(chart) {
    const a = chart.chartArea, ctx = chart.ctx;
    ctx.save();
    ctx.strokeStyle = '#4a4a4a';
    ctx.lineWidth = 1.5;
    ctx.strokeRect(a.left, a.top, a.right - a.left, a.bottom - a.top);
    ctx.restore();
  }
};

function labelPlugin(items, names, colors) {
  return {
    id: 'lineLabels',
    afterDatasetsDraw(chart) {
      const ctx = chart.ctx, sx = chart.scales.x, sy = chart.scales.y;
      ctx.save();
      ctx.font = '13px ' + FONT;
      ctx.textBaseline = 'middle';
      ctx.textAlign = 'left';
      items.forEach(([k, x, y]) => {
        ctx.fillStyle = colors[k];
        ctx.fillText(names[k], sx.getPixelForValue(x), sy.getPixelForValue(y));
      });
      ctx.restore();
    }
  };
}

panels.forEach(p => {
  const [pl, pt, pr, pb] = p.plot;
  const names = p.pos ? posNames : negNames;
  const colors = p.pos ? posColors : negColors;
  addDiv('tag', '(<i>' + p.tag + '</i>)', p.tagAt[0], p.tagAt[1]);
  addDiv('ptitle', p.title, p.titleAt[0], p.titleAt[1]);

  const AX = 80, TOP = 12, RIGHT = 60, XH = 48;
  const W = pr - pl + AX + RIGHT, H = pb - pt + TOP + XH;
  const cv = document.createElement('canvas');
  cv.width = W; cv.height = H;
  cv.style.left = (pl - AX) + 'px';
  cv.style.top = (pt - TOP) + 'px';
  cv.style.width = W + 'px';
  cv.style.height = H + 'px';
  document.body.appendChild(cv);

  new Chart(cv, {
    type: 'line',
    data: {
      datasets: p.series.map(([k, xs, ys]) => ({
        label: names[k], data: xy(xs, ys), borderColor: colors[k], backgroundColor: colors[k],
        borderWidth: 2, pointRadius: 0, tension: 0.2, fill: false
      }))
    },
    options: {
      responsive: false, animation: false, devicePixelRatio: 1,
      layout: { padding: { left: 0, top: TOP, right: RIGHT, bottom: 0 } },
      plugins: { legend: { display: false }, tooltip: { enabled: false } },
      scales: {
        x: {
          type: 'linear', min: 0, max: p.xMax,
          grid: { display: false, drawTicks: false }, border: { display: false },
          ticks: { stepSize: p.xStep, includeBounds: false, autoSkip: false, maxRotation: 0, padding: 9, color: '#222', font: { size: 14, family: FONT } },
          title: { display: true, text: 'Sputter depth (µm)', color: '#111', font: { size: 15, weight: 'bold', family: FONT }, padding: { top: 0, bottom: 1 } },
          afterFit: s => { s.height = XH; }
        },
        y: {
          type: 'linear', min: 0, max: p.yMax,
          grid: { display: false, drawTicks: false }, border: { display: false },
          ticks: { stepSize: p.yStep, includeBounds: false, autoSkip: false, padding: 11, color: '#222', font: { size: 14, family: FONT }, callback: v => v.toFixed(p.yDec) },
          title: { display: true, text: 'Normalised intensity', color: '#111', font: { size: 15, weight: 'bold', family: FONT }, padding: { top: p.yTitlePad, bottom: 0 } },
          afterFit: s => { s.width = AX; }
        }
      }
    },
    plugins: [framePlugin, labelPlugin(p.labels, names, colors)]
  });
});
</script>
</body>
</html>
